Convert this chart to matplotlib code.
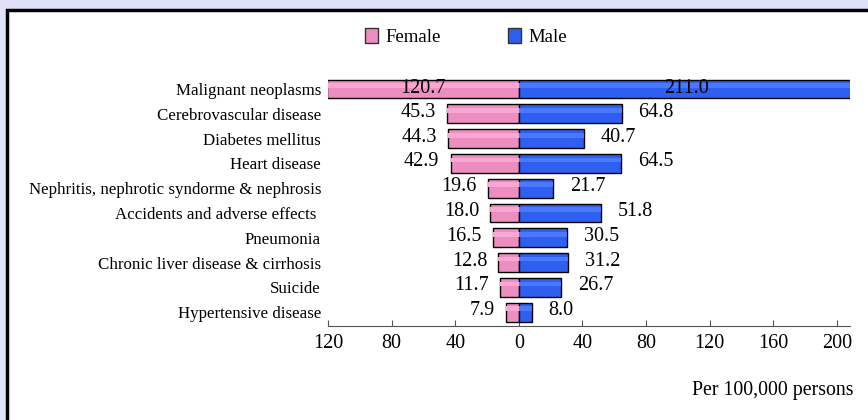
import numpy as np
import matplotlib
matplotlib.use("Agg")
import matplotlib.pyplot as plt
from matplotlib.patches import Rectangle

# leading causes of death, rate per 100,000 persons
causes = ["Malignant neoplasms", "Cerebrovascular disease", "Diabetes mellitus",
          "Heart disease", "Nephritis, nephrotic syndorme & nephrosis",
          "Accidents and adverse effects ", "Pneumonia",
          "Chronic liver disease & cirrhosis", "Suicide", "Hypertensive disease"]
female = [120.7, 45.3, 44.3, 42.9, 19.6, 18.0, 16.5, 12.8, 11.7, 7.9]
male = [211.0, 64.8, 40.7, 64.5, 21.7, 51.8, 30.5, 31.2, 26.7, 8.0]
ticks = [-120, -80, -40, 0, 40, 80, 120, 160, 200]

pink, pink_hi = "#EE8DC0", "#F8A8D2"
blue, blue_hi = "#2F5FF0", "#4A78FF"
serif = "Liberation Serif"

fig = plt.figure(figsize=(8.68, 4.2), dpi=100)
fig.patch.set_facecolor("#E0E0FA")
fig.add_artist(Rectangle((7 / 868, -0.05), 1.0, 1 - 10 / 420 + 0.05,
                         transform=fig.transFigure, facecolor="white",
                         edgecolor="black", lw=2.5, zorder=0))

ax = fig.add_axes([328 / 868, 1 - 326 / 420, 522 / 868, (326 - 76.6) / 420])
ax.set_facecolor("none")

y = np.arange(len(causes))[::-1]
f = np.array(female)
m = np.array(male)
h = 0.76

ax.barh(y, -f, height=h, color=pink, edgecolor="black", lw=1, zorder=2)
ax.barh(y, m, height=h, color=blue, edgecolor="black", lw=1, zorder=2)
# lighter band for the shaded look
ax.barh(y + h * 0.18, -f, height=h * 0.25, color=pink_hi, lw=0, zorder=3)
ax.barh(y + h * 0.18, m, height=h * 0.25, color=blue_hi, lw=0, zorder=3)

for i, (yy, fv, mv) in enumerate(zip(y, f, m)):
    if i == 0:
        ax.text(-fv / 2, yy, f"{fv:.1f}", ha="center", va="center",
                fontsize=14.5, family=serif, zorder=4)
        ax.text(mv / 2, yy, f"{mv:.1f}", ha="center", va="center",
                fontsize=14.5, family=serif, zorder=4)
    else:
        ax.annotate(f"{fv:.1f}", (-fv, yy), xytext=(-8, 1), textcoords="offset points",
                    ha="right", va="center", fontsize=14.5, family=serif)
        ax.annotate(f"{mv:.1f}", (mv, yy), xytext=(12, 1), textcoords="offset points",
                    ha="left", va="center", fontsize=14.5, family=serif)

ax.set_xlim(-120, 208.3)
ax.set_ylim(-0.56, 9.5)
ax.set_yticks(y)
ax.set_yticklabels(causes, family=serif, fontsize=12.2)
ax.tick_params(axis="y", length=0, pad=5)
ax.set_xticks(ticks)
ax.set_xticklabels([str(abs(t)) for t in ticks], family=serif, fontsize=14.5)
ax.tick_params(axis="x", direction="in", length=4, color="#555555", pad=6)
for s in ["top", "right", "left"]:
    ax.spines[s].set_visible(False)
ax.spines["bottom"].set_color("#555555")

handles = [Rectangle((0, 0), 1, 1, facecolor=pink, edgecolor="#333333"),
           Rectangle((0, 0), 1, 1, facecolor=blue, edgecolor="#333333")]
fig.legend(handles, ["Female", "Male"], loc="center", ncol=2,
           bbox_to_anchor=(466 / 868, 1 - 37 / 420), frameon=False,
           prop={"family": serif, "size": 13.5}, handlelength=0.7,
           handleheight=0.8, handletextpad=0.4, columnspacing=3.6)

fig.text(854 / 868, 1 - 390 / 420, "Per 100,000 persons", ha="right", va="center",
         family=serif, fontsize=14.3)

fig.savefig("out.png", dpi=100, facecolor=fig.get_facecolor())
